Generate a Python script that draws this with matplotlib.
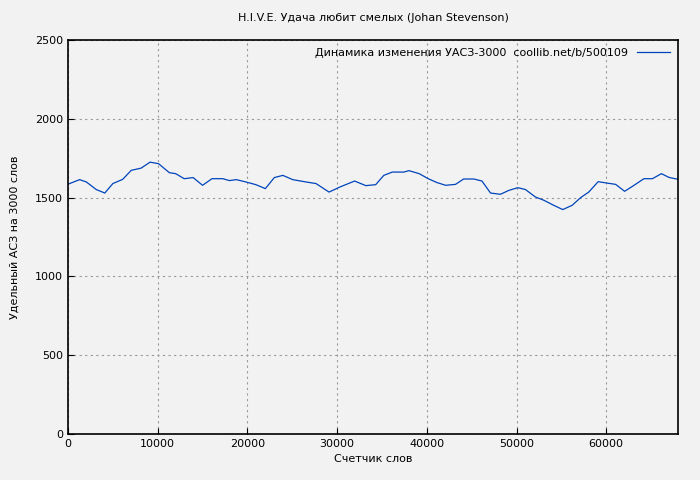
import matplotlib
matplotlib.use("Agg")
import matplotlib.pyplot as plt

words = [0, 1300, 2050, 3150, 4100, 5000, 6100, 7050, 8150, 9150, 10100, 11300, 12000,
         12950, 13950, 15000, 16050, 17250, 18000, 18750, 19850, 20950, 22000, 23000,
         23950, 25050, 26550, 27650, 29100, 30300, 31950, 33200, 34300, 35200, 36150,
         37450, 38000, 39150, 40150, 41150, 42100, 43200, 44100, 45250, 46150, 47100,
         48200, 49150, 50150, 51000, 52100, 53050, 54150, 55150, 56200, 57150, 58050,
         59100, 60100, 61050, 62050, 63100, 64200, 65150, 66150, 67000, 68000]
uasz = [1585, 1614, 1599, 1551, 1529, 1589, 1616, 1673, 1687, 1725, 1715, 1658, 1652,
        1620, 1627, 1578, 1620, 1620, 1608, 1614, 1599, 1582, 1557, 1627,
        1641, 1614, 1599, 1589, 1535, 1567, 1605, 1576, 1582, 1641, 1662,
        1662, 1671, 1652, 1620, 1595, 1578, 1584, 1618, 1618, 1605, 1529,
        1521, 1546, 1563, 1551, 1504, 1483, 1451, 1424, 1451, 1500, 1535,
        1601, 1592, 1584, 1540, 1578, 1620, 1620, 1652, 1628, 1616]

bg = "#f2f2f2"
fig = plt.figure(figsize=(7, 4.8), dpi=100, facecolor=bg)
ax = fig.add_axes([68 / 700, 46 / 480, 610 / 700, 394 / 480], facecolor=bg)

ax.plot(words, uasz, color="#0044bb", lw=0.9,
        label="Динамика изменения УАСЗ-3000  coollib.net/b/500109")
ax.set_xlim(0, 68000)
ax.set_ylim(0, 2500)
ax.set_xticks(range(0, 68000, 10000))
ax.set_yticks(range(0, 2501, 500))
ax.grid(True, color="#999999", linestyle=(0, (2, 3)), lw=0.8)
ax.tick_params(labelsize=8, direction="in", length=4)
for s in ax.spines.values():
    s.set_linewidth(1.2)

ax.set_title("H.I.V.E. Удача любит смелых (Johan Stevenson)", fontsize=8, pad=14)
ax.set_xlabel("Счетчик слов", fontsize=8)
ax.set_ylabel("Удельный АСЗ на 3000 слов", fontsize=8, labelpad=11)
leg = ax.legend(loc="upper right", fontsize=8, frameon=False, markerfirst=False,
                handlelength=3, borderaxespad=0.3)

fig.savefig("out.png", dpi=100, facecolor=bg)
